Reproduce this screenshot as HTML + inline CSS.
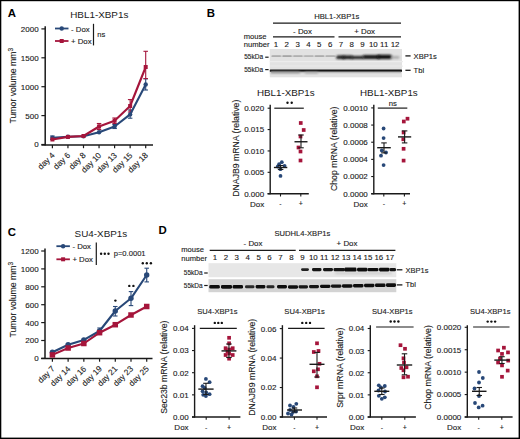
<!DOCTYPE html>
<html><head><meta charset="utf-8"><style>
html,body{margin:0;padding:0;background:#fff;}
svg{display:block;}
text{font-family:"Liberation Sans", sans-serif;stroke:#1a1a1a;stroke-width:0.12px;}
text.t{stroke:none;}
</style></head><body>
<svg width="520" height="439" viewBox="0 0 520 439">
<rect x="0" y="0" width="520" height="439" fill="#fff"/>
<defs><filter id="bl1" x="-5%" y="-50%" width="110%" height="200%"><feGaussianBlur stdDeviation="0.5"/></filter><filter id="bl2" x="-50%" y="-100%" width="200%" height="300%"><feGaussianBlur stdDeviation="0.55"/></filter><filter id="bl3" x="-50%" y="-100%" width="200%" height="300%"><feGaussianBlur stdDeviation="0.8"/></filter></defs>
<rect x="0.00" y="0.00" width="520.00" height="1.20" fill="#000" />
<rect x="0.00" y="0.00" width="1.30" height="439.00" fill="#000" />
<rect x="518.60" y="0.00" width="1.40" height="439.00" fill="#000" />
<rect x="0.00" y="437.60" width="520.00" height="1.40" fill="#000" />
<text x="7.80" y="16.80" font-size="11.4" text-anchor="start" font-weight="bold" fill="#000"  class="t">A</text>
<text x="206.80" y="17.30" font-size="11.4" text-anchor="start" font-weight="bold" fill="#000"  class="t">B</text>
<text x="7.80" y="236.00" font-size="11.4" text-anchor="start" font-weight="bold" fill="#000"  class="t">C</text>
<text x="158.40" y="234.30" font-size="11.4" text-anchor="start" font-weight="bold" fill="#000"  class="t">D</text>
<line x1="45.20" y1="26.30" x2="45.20" y2="145.60" stroke="#1a1a1a" stroke-width="1.5" />
<line x1="41.40" y1="145.00" x2="153.00" y2="145.00" stroke="#1a1a1a" stroke-width="1.5" />
<line x1="41.40" y1="144.50" x2="45.20" y2="144.50" stroke="#1a1a1a" stroke-width="1.2" />
<text x="38.60" y="147.40" font-size="8.0" text-anchor="end" font-weight="normal" fill="#1a1a1a" >0</text>
<line x1="41.40" y1="115.60" x2="45.20" y2="115.60" stroke="#1a1a1a" stroke-width="1.2" />
<text x="38.60" y="118.50" font-size="8.0" text-anchor="end" font-weight="normal" fill="#1a1a1a" >500</text>
<line x1="41.40" y1="86.70" x2="45.20" y2="86.70" stroke="#1a1a1a" stroke-width="1.2" />
<text x="38.60" y="89.60" font-size="8.0" text-anchor="end" font-weight="normal" fill="#1a1a1a" >1000</text>
<line x1="41.40" y1="57.80" x2="45.20" y2="57.80" stroke="#1a1a1a" stroke-width="1.2" />
<text x="38.60" y="60.70" font-size="8.0" text-anchor="end" font-weight="normal" fill="#1a1a1a" >1500</text>
<line x1="41.40" y1="28.90" x2="45.20" y2="28.90" stroke="#1a1a1a" stroke-width="1.2" />
<text x="38.60" y="31.80" font-size="8.0" text-anchor="end" font-weight="normal" fill="#1a1a1a" >2000</text>
<line x1="52.40" y1="145.00" x2="52.40" y2="148.20" stroke="#1a1a1a" stroke-width="1.2" />
<text x="55.20" y="155.90" font-size="8.2" text-anchor="end" fill="#1a1a1a" transform="rotate(-45 55.20 155.90)">day 4</text>
<line x1="67.95" y1="145.00" x2="67.95" y2="148.20" stroke="#1a1a1a" stroke-width="1.2" />
<text x="70.75" y="155.90" font-size="8.2" text-anchor="end" fill="#1a1a1a" transform="rotate(-45 70.75 155.90)">day 6</text>
<line x1="83.50" y1="145.00" x2="83.50" y2="148.20" stroke="#1a1a1a" stroke-width="1.2" />
<text x="86.30" y="155.90" font-size="8.2" text-anchor="end" fill="#1a1a1a" transform="rotate(-45 86.30 155.90)">day 8</text>
<line x1="99.05" y1="145.00" x2="99.05" y2="148.20" stroke="#1a1a1a" stroke-width="1.2" />
<text x="101.85" y="155.90" font-size="8.2" text-anchor="end" fill="#1a1a1a" transform="rotate(-45 101.85 155.90)">day 10</text>
<line x1="114.60" y1="145.00" x2="114.60" y2="148.20" stroke="#1a1a1a" stroke-width="1.2" />
<text x="117.40" y="155.90" font-size="8.2" text-anchor="end" fill="#1a1a1a" transform="rotate(-45 117.40 155.90)">day 13</text>
<line x1="130.15" y1="145.00" x2="130.15" y2="148.20" stroke="#1a1a1a" stroke-width="1.2" />
<text x="132.95" y="155.90" font-size="8.2" text-anchor="end" fill="#1a1a1a" transform="rotate(-45 132.95 155.90)">day 15</text>
<line x1="145.70" y1="145.00" x2="145.70" y2="148.20" stroke="#1a1a1a" stroke-width="1.2" />
<text x="148.50" y="155.90" font-size="8.2" text-anchor="end" fill="#1a1a1a" transform="rotate(-45 148.50 155.90)">day 18</text>
<text x="16.30" y="123.50" font-size="8.7" text-anchor="start" fill="#1a1a1a" transform="rotate(-90 16.30 123.50)">Tumor volume mm<tspan font-size="6.6" dy="-3.2">3</tspan></text>
<text x="99.30" y="18.00" font-size="9.9" text-anchor="middle" font-weight="normal" fill="#1a1a1a"  class="t">HBL1-XBP1s</text>
<line x1="145.70" y1="78.80" x2="145.70" y2="90.00" stroke="#284878" stroke-width="1.1" />
<line x1="143.45" y1="78.80" x2="147.95" y2="78.80" stroke="#284878" stroke-width="1.1" />
<line x1="143.45" y1="90.00" x2="147.95" y2="90.00" stroke="#284878" stroke-width="1.1" />
<line x1="130.15" y1="110.00" x2="130.15" y2="118.20" stroke="#284878" stroke-width="1.1" />
<line x1="127.90" y1="110.00" x2="132.40" y2="110.00" stroke="#284878" stroke-width="1.1" />
<line x1="127.90" y1="118.20" x2="132.40" y2="118.20" stroke="#284878" stroke-width="1.1" />
<line x1="114.60" y1="124.50" x2="114.60" y2="128.50" stroke="#284878" stroke-width="1.1" />
<line x1="112.35" y1="124.50" x2="116.85" y2="124.50" stroke="#284878" stroke-width="1.1" />
<line x1="112.35" y1="128.50" x2="116.85" y2="128.50" stroke="#284878" stroke-width="1.1" />
<line x1="52.40" y1="136.00" x2="52.40" y2="139.50" stroke="#284878" stroke-width="1.1" />
<line x1="50.15" y1="136.00" x2="54.65" y2="136.00" stroke="#284878" stroke-width="1.1" />
<line x1="50.15" y1="139.50" x2="54.65" y2="139.50" stroke="#284878" stroke-width="1.1" />
<line x1="145.70" y1="51.30" x2="145.70" y2="78.60" stroke="#a5153b" stroke-width="1.1" />
<line x1="143.45" y1="51.30" x2="147.95" y2="51.30" stroke="#a5153b" stroke-width="1.1" />
<line x1="143.45" y1="78.60" x2="147.95" y2="78.60" stroke="#a5153b" stroke-width="1.1" />
<line x1="130.15" y1="99.60" x2="130.15" y2="112.00" stroke="#a5153b" stroke-width="1.1" />
<line x1="127.90" y1="99.60" x2="132.40" y2="99.60" stroke="#a5153b" stroke-width="1.1" />
<line x1="127.90" y1="112.00" x2="132.40" y2="112.00" stroke="#a5153b" stroke-width="1.1" />
<line x1="114.60" y1="118.00" x2="114.60" y2="123.50" stroke="#a5153b" stroke-width="1.1" />
<line x1="112.35" y1="118.00" x2="116.85" y2="118.00" stroke="#a5153b" stroke-width="1.1" />
<line x1="112.35" y1="123.50" x2="116.85" y2="123.50" stroke="#a5153b" stroke-width="1.1" />
<line x1="99.05" y1="123.50" x2="99.05" y2="129.50" stroke="#a5153b" stroke-width="1.1" />
<line x1="96.80" y1="123.50" x2="101.30" y2="123.50" stroke="#a5153b" stroke-width="1.1" />
<line x1="96.80" y1="129.50" x2="101.30" y2="129.50" stroke="#a5153b" stroke-width="1.1" />
<polyline points="52.40,137.70 67.95,136.70 83.50,136.20 99.05,132.20 114.60,126.50 130.15,114.40 145.70,84.50" fill="none" stroke="#284878" stroke-width="2.1" stroke-linejoin="round"/>
<circle cx="52.40" cy="137.70" r="2.2" fill="#284878"/>
<circle cx="67.95" cy="136.70" r="2.2" fill="#284878"/>
<circle cx="83.50" cy="136.20" r="2.2" fill="#284878"/>
<circle cx="99.05" cy="132.20" r="2.2" fill="#284878"/>
<circle cx="114.60" cy="126.50" r="2.2" fill="#284878"/>
<circle cx="130.15" cy="114.40" r="2.2" fill="#284878"/>
<circle cx="145.70" cy="84.50" r="2.2" fill="#284878"/>
<polyline points="52.40,139.50 67.95,136.90 83.50,136.00 99.05,126.50 114.60,120.70 130.15,106.00 145.70,67.00" fill="none" stroke="#a5153b" stroke-width="2.1" stroke-linejoin="round"/>
<rect x="50.40" y="137.50" width="4.00" height="4.00" fill="#a5153b" />
<rect x="65.95" y="134.90" width="4.00" height="4.00" fill="#a5153b" />
<rect x="81.50" y="134.00" width="4.00" height="4.00" fill="#a5153b" />
<rect x="97.05" y="124.50" width="4.00" height="4.00" fill="#a5153b" />
<rect x="112.60" y="118.70" width="4.00" height="4.00" fill="#a5153b" />
<rect x="128.15" y="104.00" width="4.00" height="4.00" fill="#a5153b" />
<rect x="143.70" y="65.00" width="4.00" height="4.00" fill="#a5153b" />
<line x1="55.00" y1="28.50" x2="68.50" y2="28.50" stroke="#284878" stroke-width="1.8" />
<circle cx="61.70" cy="28.50" r="2.2" fill="#284878"/>
<text x="71.00" y="31.50" font-size="7.8" text-anchor="start" font-weight="normal" fill="#1a1a1a" >- Dox</text>
<line x1="55.00" y1="41.00" x2="68.50" y2="41.00" stroke="#a5153b" stroke-width="1.8" />
<rect x="59.70" y="39.00" width="4.00" height="4.00" fill="#a5153b" />
<text x="71.00" y="44.00" font-size="7.8" text-anchor="start" font-weight="normal" fill="#1a1a1a" >+ Dox</text>
<line x1="93.50" y1="23.80" x2="93.50" y2="45.40" stroke="#1a1a1a" stroke-width="1.2" />
<text x="97.20" y="37.40" font-size="7.6" text-anchor="start" font-weight="normal" fill="#1a1a1a" >ns</text>
<line x1="45.00" y1="248.60" x2="45.00" y2="359.10" stroke="#1a1a1a" stroke-width="1.5" />
<line x1="41.20" y1="358.50" x2="152.50" y2="358.50" stroke="#1a1a1a" stroke-width="1.5" />
<line x1="41.20" y1="358.40" x2="45.00" y2="358.40" stroke="#1a1a1a" stroke-width="1.2" />
<text x="38.60" y="361.30" font-size="8.0" text-anchor="end" font-weight="normal" fill="#1a1a1a" >0</text>
<line x1="41.20" y1="340.50" x2="45.00" y2="340.50" stroke="#1a1a1a" stroke-width="1.2" />
<text x="38.60" y="343.40" font-size="8.0" text-anchor="end" font-weight="normal" fill="#1a1a1a" >200</text>
<line x1="41.20" y1="322.60" x2="45.00" y2="322.60" stroke="#1a1a1a" stroke-width="1.2" />
<text x="38.60" y="325.50" font-size="8.0" text-anchor="end" font-weight="normal" fill="#1a1a1a" >400</text>
<line x1="41.20" y1="304.70" x2="45.00" y2="304.70" stroke="#1a1a1a" stroke-width="1.2" />
<text x="38.60" y="307.60" font-size="8.0" text-anchor="end" font-weight="normal" fill="#1a1a1a" >600</text>
<line x1="41.20" y1="286.80" x2="45.00" y2="286.80" stroke="#1a1a1a" stroke-width="1.2" />
<text x="38.60" y="289.70" font-size="8.0" text-anchor="end" font-weight="normal" fill="#1a1a1a" >800</text>
<line x1="41.20" y1="268.90" x2="45.00" y2="268.90" stroke="#1a1a1a" stroke-width="1.2" />
<text x="38.60" y="271.80" font-size="8.0" text-anchor="end" font-weight="normal" fill="#1a1a1a" >1000</text>
<line x1="41.20" y1="251.00" x2="45.00" y2="251.00" stroke="#1a1a1a" stroke-width="1.2" />
<text x="38.60" y="253.90" font-size="8.0" text-anchor="end" font-weight="normal" fill="#1a1a1a" >1200</text>
<line x1="52.40" y1="358.50" x2="52.40" y2="361.70" stroke="#1a1a1a" stroke-width="1.2" />
<text x="55.20" y="369.40" font-size="8.2" text-anchor="end" fill="#1a1a1a" transform="rotate(-45 55.20 369.40)">day 7</text>
<line x1="68.12" y1="358.50" x2="68.12" y2="361.70" stroke="#1a1a1a" stroke-width="1.2" />
<text x="70.92" y="369.40" font-size="8.2" text-anchor="end" fill="#1a1a1a" transform="rotate(-45 70.92 369.40)">day 14</text>
<line x1="83.84" y1="358.50" x2="83.84" y2="361.70" stroke="#1a1a1a" stroke-width="1.2" />
<text x="86.64" y="369.40" font-size="8.2" text-anchor="end" fill="#1a1a1a" transform="rotate(-45 86.64 369.40)">day 16</text>
<line x1="99.56" y1="358.50" x2="99.56" y2="361.70" stroke="#1a1a1a" stroke-width="1.2" />
<text x="102.36" y="369.40" font-size="8.2" text-anchor="end" fill="#1a1a1a" transform="rotate(-45 102.36 369.40)">day 19</text>
<line x1="115.28" y1="358.50" x2="115.28" y2="361.70" stroke="#1a1a1a" stroke-width="1.2" />
<text x="118.08" y="369.40" font-size="8.2" text-anchor="end" fill="#1a1a1a" transform="rotate(-45 118.08 369.40)">day 21</text>
<line x1="131.00" y1="358.50" x2="131.00" y2="361.70" stroke="#1a1a1a" stroke-width="1.2" />
<text x="133.80" y="369.40" font-size="8.2" text-anchor="end" fill="#1a1a1a" transform="rotate(-45 133.80 369.40)">day 23</text>
<line x1="146.72" y1="358.50" x2="146.72" y2="361.70" stroke="#1a1a1a" stroke-width="1.2" />
<text x="149.52" y="369.40" font-size="8.2" text-anchor="end" fill="#1a1a1a" transform="rotate(-45 149.52 369.40)">day 25</text>
<text x="16.30" y="337.50" font-size="8.7" text-anchor="start" fill="#1a1a1a" transform="rotate(-90 16.30 337.50)">Tumor volume mm<tspan font-size="6.6" dy="-3.2">3</tspan></text>
<text x="100.90" y="237.40" font-size="9.9" text-anchor="middle" font-weight="normal" fill="#1a1a1a"  class="t">SU4-XBP1s</text>
<line x1="146.72" y1="268.20" x2="146.72" y2="281.90" stroke="#284878" stroke-width="1.1" />
<line x1="144.47" y1="268.20" x2="148.97" y2="268.20" stroke="#284878" stroke-width="1.1" />
<line x1="144.47" y1="281.90" x2="148.97" y2="281.90" stroke="#284878" stroke-width="1.1" />
<line x1="131.00" y1="291.60" x2="131.00" y2="305.60" stroke="#284878" stroke-width="1.1" />
<line x1="128.75" y1="291.60" x2="133.25" y2="291.60" stroke="#284878" stroke-width="1.1" />
<line x1="128.75" y1="305.60" x2="133.25" y2="305.60" stroke="#284878" stroke-width="1.1" />
<line x1="115.28" y1="306.50" x2="115.28" y2="316.00" stroke="#284878" stroke-width="1.1" />
<line x1="113.03" y1="306.50" x2="117.53" y2="306.50" stroke="#284878" stroke-width="1.1" />
<line x1="113.03" y1="316.00" x2="117.53" y2="316.00" stroke="#284878" stroke-width="1.1" />
<line x1="99.56" y1="328.00" x2="99.56" y2="334.00" stroke="#284878" stroke-width="1.1" />
<line x1="97.31" y1="328.00" x2="101.81" y2="328.00" stroke="#284878" stroke-width="1.1" />
<line x1="97.31" y1="334.00" x2="101.81" y2="334.00" stroke="#284878" stroke-width="1.1" />
<polyline points="52.40,352.30 68.12,344.80 83.84,339.90 99.56,331.00 115.28,311.00 131.00,298.30 146.72,275.00" fill="none" stroke="#284878" stroke-width="2.1" stroke-linejoin="round"/>
<circle cx="52.40" cy="352.30" r="2.7" fill="#284878"/>
<circle cx="68.12" cy="344.80" r="2.7" fill="#284878"/>
<circle cx="83.84" cy="339.90" r="2.7" fill="#284878"/>
<circle cx="99.56" cy="331.00" r="2.7" fill="#284878"/>
<circle cx="115.28" cy="311.00" r="2.7" fill="#284878"/>
<circle cx="131.00" cy="298.30" r="2.7" fill="#284878"/>
<circle cx="146.72" cy="275.00" r="2.7" fill="#284878"/>
<polyline points="52.40,354.90 68.12,348.00 83.84,343.50 99.56,332.70 115.28,324.70 131.00,315.00 146.72,306.50" fill="none" stroke="#a5153b" stroke-width="2.1" stroke-linejoin="round"/>
<rect x="49.65" y="352.15" width="5.50" height="5.50" fill="#a5153b" />
<rect x="65.37" y="345.25" width="5.50" height="5.50" fill="#a5153b" />
<rect x="81.09" y="340.75" width="5.50" height="5.50" fill="#a5153b" />
<rect x="96.81" y="329.95" width="5.50" height="5.50" fill="#a5153b" />
<rect x="112.53" y="321.95" width="5.50" height="5.50" fill="#a5153b" />
<rect x="128.25" y="312.25" width="5.50" height="5.50" fill="#a5153b" />
<rect x="143.97" y="303.75" width="5.50" height="5.50" fill="#a5153b" />
<line x1="56.40" y1="246.20" x2="69.90" y2="246.20" stroke="#284878" stroke-width="1.8" />
<circle cx="63.10" cy="246.20" r="2.2" fill="#284878"/>
<text x="72.40" y="249.20" font-size="7.8" text-anchor="start" font-weight="normal" fill="#1a1a1a" >- Dox</text>
<line x1="56.40" y1="259.30" x2="69.90" y2="259.30" stroke="#a5153b" stroke-width="1.8" />
<rect x="61.10" y="257.30" width="4.00" height="4.00" fill="#a5153b" />
<text x="72.40" y="262.30" font-size="7.8" text-anchor="start" font-weight="normal" fill="#1a1a1a" >+ Dox</text>
<line x1="96.30" y1="242.60" x2="96.30" y2="264.90" stroke="#1a1a1a" stroke-width="1.2" />
<text x="113.70" y="256.00" font-size="7.6" text-anchor="start" font-weight="normal" fill="#1a1a1a" >p=0.0001</text>
<circle cx="101.10" cy="253.80" r="1.2" fill="#111"/>
<circle cx="104.80" cy="253.80" r="1.2" fill="#111"/>
<circle cx="108.50" cy="253.80" r="1.2" fill="#111"/>
<circle cx="115.40" cy="300.60" r="1.2" fill="#111"/>
<circle cx="129.30" cy="285.90" r="1.2" fill="#111"/>
<circle cx="133.40" cy="285.90" r="1.2" fill="#111"/>
<circle cx="142.80" cy="263.20" r="1.2" fill="#111"/>
<circle cx="146.80" cy="263.20" r="1.2" fill="#111"/>
<circle cx="150.90" cy="263.20" r="1.2" fill="#111"/>
<text x="336.80" y="18.60" font-size="7.7" text-anchor="middle" font-weight="normal" fill="#1a1a1a" >HBL1-XBP1s</text>
<line x1="273.00" y1="23.10" x2="401.00" y2="23.10" stroke="#1a1a1a" stroke-width="1.2" />
<text x="302.50" y="33.60" font-size="7.9" text-anchor="middle" font-weight="normal" fill="#1a1a1a" >- Dox</text>
<text x="364.60" y="33.60" font-size="7.9" text-anchor="middle" font-weight="normal" fill="#1a1a1a" >+ Dox</text>
<line x1="273.00" y1="36.90" x2="334.50" y2="36.90" stroke="#1a1a1a" stroke-width="1.2" />
<line x1="338.50" y1="36.90" x2="401.00" y2="36.90" stroke="#1a1a1a" stroke-width="1.2" />
<text x="243.80" y="38.60" font-size="7.6" text-anchor="start" font-weight="normal" fill="#1a1a1a" >mouse</text>
<text x="243.80" y="47.00" font-size="7.6" text-anchor="start" font-weight="normal" fill="#1a1a1a" >number</text>
<text x="276.00" y="46.80" font-size="7.9" text-anchor="middle" font-weight="normal" fill="#1a1a1a" >1</text>
<text x="286.82" y="46.80" font-size="7.9" text-anchor="middle" font-weight="normal" fill="#1a1a1a" >2</text>
<text x="297.64" y="46.80" font-size="7.9" text-anchor="middle" font-weight="normal" fill="#1a1a1a" >3</text>
<text x="308.46" y="46.80" font-size="7.9" text-anchor="middle" font-weight="normal" fill="#1a1a1a" >4</text>
<text x="319.28" y="46.80" font-size="7.9" text-anchor="middle" font-weight="normal" fill="#1a1a1a" >5</text>
<text x="330.10" y="46.80" font-size="7.9" text-anchor="middle" font-weight="normal" fill="#1a1a1a" >6</text>
<text x="340.92" y="46.80" font-size="7.9" text-anchor="middle" font-weight="normal" fill="#1a1a1a" >7</text>
<text x="351.74" y="46.80" font-size="7.9" text-anchor="middle" font-weight="normal" fill="#1a1a1a" >8</text>
<text x="362.56" y="46.80" font-size="7.9" text-anchor="middle" font-weight="normal" fill="#1a1a1a" >9</text>
<text x="373.38" y="46.80" font-size="7.9" text-anchor="middle" font-weight="normal" fill="#1a1a1a" >10</text>
<text x="384.20" y="46.80" font-size="7.9" text-anchor="middle" font-weight="normal" fill="#1a1a1a" >11</text>
<text x="395.02" y="46.80" font-size="7.9" text-anchor="middle" font-weight="normal" fill="#1a1a1a" >12</text>
<rect x="269.80" y="49.00" width="132.20" height="28.30" fill="#e2e2e2" filter="url(#bl1)"/>
<rect x="269.80" y="61.00" width="133.20" height="1.20" fill="#ececec" filter="url(#bl1)"/>
<rect x="269.80" y="65.60" width="133.20" height="1.00" fill="#eaeaea" filter="url(#bl1)"/>
<rect x="271.00" y="55.55" width="65.00" height="1.30" rx="0.6" fill="#c6c6c6" filter="url(#bl2)"/>
<rect x="271.70" y="55.20" width="9.20" height="1.80" rx="0.8" fill="#aeaeae" filter="url(#bl2)"/>
<rect x="282.50" y="55.20" width="9.20" height="1.80" rx="0.8" fill="#a6a6a6" filter="url(#bl2)"/>
<rect x="293.30" y="55.20" width="9.20" height="1.80" rx="0.8" fill="#b0b0b0" filter="url(#bl2)"/>
<rect x="304.10" y="55.20" width="9.20" height="1.80" rx="0.8" fill="#b6b6b6" filter="url(#bl2)"/>
<rect x="314.90" y="55.20" width="9.20" height="1.80" rx="0.8" fill="#acacac" filter="url(#bl2)"/>
<rect x="325.70" y="55.20" width="9.20" height="1.80" rx="0.8" fill="#b2b2b2" filter="url(#bl2)"/>
<rect x="336.20" y="55.60" width="8.80" height="3.40" rx="1.6" fill="#1c1c1c" filter="url(#bl3)"/>
<rect x="342.50" y="55.40" width="10.50" height="3.60" rx="1.6" fill="#141414" filter="url(#bl3)"/>
<rect x="351.00" y="56.10" width="13.00" height="3.00" rx="1.4" fill="#222222" filter="url(#bl3)"/>
<rect x="362.50" y="55.10" width="17.50" height="3.80" rx="1.8" fill="#141414" filter="url(#bl3)"/>
<rect x="377.00" y="54.70" width="15.00" height="4.20" rx="2.0" fill="#0e0e0e" filter="url(#bl3)"/>
<rect x="391.00" y="56.30" width="8.50" height="2.20" rx="1.0" fill="#a0a0a0" filter="url(#bl3)"/>
<rect x="269.80" y="69.55" width="132.20" height="2.10" rx="0.5" fill="#151515" filter="url(#bl1)"/>
<rect x="271.00" y="71.85" width="130.00" height="1.50" rx="0.5" fill="#bcbcbc" filter="url(#bl2)"/>
<rect x="270.50" y="71.60" width="29.50" height="1.60" rx="0.6" fill="#8c8c8c" filter="url(#bl3)"/>
<rect x="305.00" y="72.10" width="13.00" height="1.40" rx="0.6" fill="#a0a0a0" filter="url(#bl3)"/>
<text x="263.00" y="59.40" font-size="6.5" text-anchor="end" font-weight="normal" fill="#1a1a1a" >55kDa</text>
<line x1="265.20" y1="57.20" x2="268.60" y2="57.20" stroke="#1a1a1a" stroke-width="1.2" />
<text x="263.00" y="71.80" font-size="6.5" text-anchor="end" font-weight="normal" fill="#1a1a1a" >55kDa</text>
<line x1="265.20" y1="69.60" x2="268.60" y2="69.60" stroke="#1a1a1a" stroke-width="1.2" />
<line x1="405.40" y1="55.90" x2="410.60" y2="55.90" stroke="#1a1a1a" stroke-width="1.3" />
<text x="413.60" y="58.60" font-size="7.6" text-anchor="start" font-weight="normal" fill="#1a1a1a" >XBP1s</text>
<line x1="405.40" y1="70.30" x2="410.60" y2="70.30" stroke="#1a1a1a" stroke-width="1.3" />
<text x="413.60" y="72.90" font-size="7.6" text-anchor="start" font-weight="normal" fill="#1a1a1a" >Tbl</text>
<text x="302.40" y="235.60" font-size="7.6" text-anchor="middle" font-weight="normal" fill="#1a1a1a" >SUDHL4-XBP1s</text>
<text x="253.00" y="246.00" font-size="7.9" text-anchor="middle" font-weight="normal" fill="#1a1a1a" >- Dox</text>
<text x="347.00" y="246.40" font-size="7.9" text-anchor="middle" font-weight="normal" fill="#1a1a1a" >+ Dox</text>
<line x1="209.70" y1="250.40" x2="295.70" y2="250.40" stroke="#1a1a1a" stroke-width="1.2" />
<line x1="299.00" y1="250.40" x2="395.40" y2="250.40" stroke="#1a1a1a" stroke-width="1.2" />
<text x="181.20" y="251.80" font-size="7.6" text-anchor="start" font-weight="normal" fill="#1a1a1a" >mouse</text>
<text x="181.20" y="261.00" font-size="7.6" text-anchor="start" font-weight="normal" fill="#1a1a1a" >number</text>
<text x="214.90" y="260.10" font-size="7.9" text-anchor="middle" font-weight="normal" fill="#1a1a1a" >1</text>
<text x="225.83" y="260.10" font-size="7.9" text-anchor="middle" font-weight="normal" fill="#1a1a1a" >2</text>
<text x="236.76" y="260.10" font-size="7.9" text-anchor="middle" font-weight="normal" fill="#1a1a1a" >3</text>
<text x="247.69" y="260.10" font-size="7.9" text-anchor="middle" font-weight="normal" fill="#1a1a1a" >4</text>
<text x="258.62" y="260.10" font-size="7.9" text-anchor="middle" font-weight="normal" fill="#1a1a1a" >5</text>
<text x="269.55" y="260.10" font-size="7.9" text-anchor="middle" font-weight="normal" fill="#1a1a1a" >6</text>
<text x="280.48" y="260.10" font-size="7.9" text-anchor="middle" font-weight="normal" fill="#1a1a1a" >7</text>
<text x="291.41" y="260.10" font-size="7.9" text-anchor="middle" font-weight="normal" fill="#1a1a1a" >8</text>
<text x="302.34" y="260.10" font-size="7.9" text-anchor="middle" font-weight="normal" fill="#1a1a1a" >9</text>
<text x="313.27" y="260.10" font-size="7.9" text-anchor="middle" font-weight="normal" fill="#1a1a1a" >10</text>
<text x="324.20" y="260.10" font-size="7.9" text-anchor="middle" font-weight="normal" fill="#1a1a1a" >11</text>
<text x="335.13" y="260.10" font-size="7.9" text-anchor="middle" font-weight="normal" fill="#1a1a1a" >12</text>
<text x="346.06" y="260.10" font-size="7.9" text-anchor="middle" font-weight="normal" fill="#1a1a1a" >13</text>
<text x="356.99" y="260.10" font-size="7.9" text-anchor="middle" font-weight="normal" fill="#1a1a1a" >14</text>
<text x="367.92" y="260.10" font-size="7.9" text-anchor="middle" font-weight="normal" fill="#1a1a1a" >15</text>
<text x="378.85" y="260.10" font-size="7.9" text-anchor="middle" font-weight="normal" fill="#1a1a1a" >16</text>
<text x="389.78" y="260.10" font-size="7.9" text-anchor="middle" font-weight="normal" fill="#1a1a1a" >17</text>
<rect x="208.50" y="263.20" width="187.80" height="14.00" fill="#e7e7e7" filter="url(#bl1)"/>
<rect x="208.50" y="279.20" width="187.80" height="13.00" fill="#d3d3d3" filter="url(#bl1)"/>
<rect x="209.30" y="285.00" width="10.50" height="3.60" rx="1.4" fill="#080808" filter="url(#bl2)"/>
<rect x="221.00" y="284.90" width="11.00" height="3.80" rx="1.4" fill="#0a0a0a" filter="url(#bl2)"/>
<rect x="232.60" y="285.00" width="10.40" height="3.60" rx="1.4" fill="#0a0a0a" filter="url(#bl2)"/>
<rect x="245.00" y="285.30" width="9.50" height="3.00" rx="1.4" fill="#2a2a2a" filter="url(#bl2)"/>
<rect x="255.60" y="285.10" width="9.80" height="3.40" rx="1.4" fill="#0e0e0e" filter="url(#bl2)"/>
<rect x="266.40" y="285.30" width="8.10" height="3.00" rx="1.4" fill="#252525" filter="url(#bl2)"/>
<rect x="277.00" y="285.10" width="10.00" height="3.40" rx="1.4" fill="#101010" filter="url(#bl2)"/>
<rect x="288.00" y="285.34" width="10.00" height="3.40" rx="1.4" fill="#101010" filter="url(#bl2)"/>
<rect x="298.50" y="285.24" width="9.50" height="3.20" rx="1.4" fill="#141414" filter="url(#bl2)"/>
<rect x="309.00" y="285.02" width="10.00" height="3.20" rx="1.4" fill="#141414" filter="url(#bl2)"/>
<rect x="320.00" y="284.80" width="10.50" height="3.20" rx="1.4" fill="#101010" filter="url(#bl2)"/>
<rect x="331.00" y="284.57" width="10.50" height="3.20" rx="1.4" fill="#141414" filter="url(#bl2)"/>
<rect x="342.00" y="284.26" width="10.50" height="3.40" rx="1.4" fill="#101010" filter="url(#bl2)"/>
<rect x="353.00" y="284.04" width="10.50" height="3.40" rx="1.4" fill="#101010" filter="url(#bl2)"/>
<rect x="364.00" y="283.82" width="10.50" height="3.40" rx="1.4" fill="#101010" filter="url(#bl2)"/>
<rect x="375.00" y="283.50" width="10.50" height="3.60" rx="1.4" fill="#0c0c0c" filter="url(#bl2)"/>
<rect x="386.00" y="283.28" width="10.00" height="3.60" rx="1.4" fill="#0c0c0c" filter="url(#bl2)"/>
<rect x="335.00" y="272.50" width="57.00" height="1.60" rx="0.8" fill="#c4c4c4" filter="url(#bl3)"/>
<rect x="301.00" y="268.20" width="8.00" height="2.80" rx="1.4" fill="#222222" filter="url(#bl2)"/>
<rect x="312.00" y="268.00" width="9.50" height="3.20" rx="1.4" fill="#141414" filter="url(#bl2)"/>
<rect x="323.00" y="268.00" width="10.00" height="3.20" rx="1.4" fill="#141414" filter="url(#bl2)"/>
<rect x="333.50" y="267.90" width="11.50" height="3.40" rx="1.4" fill="#141414" filter="url(#bl2)"/>
<rect x="344.50" y="267.60" width="12.00" height="4.00" rx="1.4" fill="#0e0e0e" filter="url(#bl2)"/>
<rect x="357.00" y="267.80" width="10.50" height="3.60" rx="1.4" fill="#101010" filter="url(#bl2)"/>
<rect x="367.50" y="267.90" width="11.00" height="3.40" rx="1.4" fill="#101010" filter="url(#bl2)"/>
<rect x="379.00" y="267.70" width="10.50" height="3.80" rx="1.4" fill="#0e0e0e" filter="url(#bl2)"/>
<rect x="389.50" y="267.90" width="6.50" height="3.40" rx="1.4" fill="#141414" filter="url(#bl2)"/>
<text x="202.60" y="275.00" font-size="6.5" text-anchor="end" font-weight="normal" fill="#1a1a1a" >55kDa</text>
<line x1="204.20" y1="273.00" x2="207.70" y2="273.00" stroke="#1a1a1a" stroke-width="1.2" />
<text x="202.60" y="288.00" font-size="6.5" text-anchor="end" font-weight="normal" fill="#1a1a1a" >55kDa</text>
<line x1="204.20" y1="285.50" x2="207.70" y2="285.50" stroke="#1a1a1a" stroke-width="1.2" />
<line x1="396.80" y1="269.80" x2="402.40" y2="269.80" stroke="#1a1a1a" stroke-width="1.3" />
<text x="405.50" y="272.60" font-size="7.5" text-anchor="start" font-weight="normal" fill="#1a1a1a" >XBP1s</text>
<line x1="396.80" y1="284.90" x2="402.40" y2="284.90" stroke="#1a1a1a" stroke-width="1.3" />
<text x="405.50" y="287.40" font-size="7.5" text-anchor="start" font-weight="normal" fill="#1a1a1a" >Tbl</text>
<line x1="270.20" y1="104.80" x2="270.20" y2="194.30" stroke="#1a1a1a" stroke-width="1.4" />
<line x1="267.60" y1="193.70" x2="308.80" y2="193.70" stroke="#1a1a1a" stroke-width="1.4" />
<line x1="267.60" y1="193.70" x2="270.20" y2="193.70" stroke="#1a1a1a" stroke-width="1.1" />
<text x="264.20" y="196.60" font-size="8.0" text-anchor="end" font-weight="normal" fill="#1a1a1a" >0.000</text>
<line x1="267.60" y1="172.32" x2="270.20" y2="172.32" stroke="#1a1a1a" stroke-width="1.1" />
<text x="264.20" y="175.22" font-size="8.0" text-anchor="end" font-weight="normal" fill="#1a1a1a" >0.005</text>
<line x1="267.60" y1="150.95" x2="270.20" y2="150.95" stroke="#1a1a1a" stroke-width="1.1" />
<text x="264.20" y="153.85" font-size="8.0" text-anchor="end" font-weight="normal" fill="#1a1a1a" >0.010</text>
<line x1="267.60" y1="129.57" x2="270.20" y2="129.57" stroke="#1a1a1a" stroke-width="1.1" />
<text x="264.20" y="132.47" font-size="8.0" text-anchor="end" font-weight="normal" fill="#1a1a1a" >0.015</text>
<line x1="267.60" y1="108.20" x2="270.20" y2="108.20" stroke="#1a1a1a" stroke-width="1.1" />
<text x="264.20" y="111.10" font-size="8.0" text-anchor="end" font-weight="normal" fill="#1a1a1a" >0.020</text>
<line x1="280.50" y1="193.70" x2="280.50" y2="196.50" stroke="#1a1a1a" stroke-width="1.1" />
<line x1="300.80" y1="193.70" x2="300.80" y2="196.50" stroke="#1a1a1a" stroke-width="1.1" />
<text x="264.20" y="206.80" font-size="8.0" text-anchor="end" font-weight="normal" fill="#1a1a1a" >Dox</text>
<text x="280.50" y="206.20" font-size="7.0" text-anchor="middle" font-weight="normal" fill="#1a1a1a" >-</text>
<text x="300.80" y="206.20" font-size="7.0" text-anchor="middle" font-weight="normal" fill="#1a1a1a" >+</text>
<text x="285.80" y="95.90" font-size="9.8" text-anchor="middle" font-weight="normal" fill="#1a1a1a"  class="t">HBL1-XBP1s</text>
<text x="239.20" y="196.70" font-size="8.7" text-anchor="start" fill="#1a1a1a" transform="rotate(-90 239.20 196.70)">DNAJB9 mRNA (relative)</text>
<line x1="274.30" y1="108.20" x2="303.80" y2="108.20" stroke="#1a1a1a" stroke-width="1.2" />
<circle cx="287.50" cy="102.70" r="1.2" fill="#111"/>
<circle cx="291.70" cy="102.70" r="1.2" fill="#111"/>
<circle cx="281.80" cy="162.20" r="1.9" fill="#284878"/>
<circle cx="279.10" cy="164.20" r="1.9" fill="#284878"/>
<circle cx="284.60" cy="165.80" r="1.9" fill="#284878"/>
<circle cx="277.80" cy="166.50" r="1.9" fill="#284878"/>
<circle cx="280.40" cy="169.20" r="1.9" fill="#284878"/>
<circle cx="280.50" cy="175.90" r="1.9" fill="#284878"/>
<rect x="298.90" y="121.15" width="3.70" height="3.70" fill="#a5153b" />
<rect x="301.85" y="128.15" width="3.70" height="3.70" fill="#a5153b" />
<rect x="298.65" y="134.65" width="3.70" height="3.70" fill="#a5153b" />
<rect x="296.65" y="145.65" width="3.70" height="3.70" fill="#a5153b" />
<rect x="298.65" y="149.65" width="3.70" height="3.70" fill="#a5153b" />
<rect x="298.65" y="158.65" width="3.70" height="3.70" fill="#a5153b" />
<line x1="273.90" y1="167.50" x2="287.30" y2="167.50" stroke="#1a1a1a" stroke-width="1.4" />
<line x1="280.60" y1="165.50" x2="280.60" y2="169.50" stroke="#1a1a1a" stroke-width="1.1" />
<line x1="277.85" y1="165.50" x2="283.35" y2="165.50" stroke="#1a1a1a" stroke-width="1.1" />
<line x1="277.85" y1="169.50" x2="283.35" y2="169.50" stroke="#1a1a1a" stroke-width="1.1" />
<line x1="294.50" y1="141.75" x2="307.50" y2="141.75" stroke="#1a1a1a" stroke-width="1.4" />
<line x1="301.00" y1="135.00" x2="301.00" y2="147.80" stroke="#1a1a1a" stroke-width="1.1" />
<line x1="298.25" y1="135.00" x2="303.75" y2="135.00" stroke="#1a1a1a" stroke-width="1.1" />
<line x1="298.25" y1="147.80" x2="303.75" y2="147.80" stroke="#1a1a1a" stroke-width="1.1" />
<line x1="373.80" y1="104.80" x2="373.80" y2="194.30" stroke="#1a1a1a" stroke-width="1.4" />
<line x1="371.20" y1="193.70" x2="410.00" y2="193.70" stroke="#1a1a1a" stroke-width="1.4" />
<line x1="371.20" y1="193.70" x2="373.80" y2="193.70" stroke="#1a1a1a" stroke-width="1.1" />
<text x="367.80" y="196.60" font-size="8.0" text-anchor="end" font-weight="normal" fill="#1a1a1a" >0.0000</text>
<line x1="371.20" y1="176.54" x2="373.80" y2="176.54" stroke="#1a1a1a" stroke-width="1.1" />
<text x="367.80" y="179.44" font-size="8.0" text-anchor="end" font-weight="normal" fill="#1a1a1a" >0.0002</text>
<line x1="371.20" y1="159.38" x2="373.80" y2="159.38" stroke="#1a1a1a" stroke-width="1.1" />
<text x="367.80" y="162.28" font-size="8.0" text-anchor="end" font-weight="normal" fill="#1a1a1a" >0.0004</text>
<line x1="371.20" y1="142.22" x2="373.80" y2="142.22" stroke="#1a1a1a" stroke-width="1.1" />
<text x="367.80" y="145.12" font-size="8.0" text-anchor="end" font-weight="normal" fill="#1a1a1a" >0.0006</text>
<line x1="371.20" y1="125.06" x2="373.80" y2="125.06" stroke="#1a1a1a" stroke-width="1.1" />
<text x="367.80" y="127.96" font-size="8.0" text-anchor="end" font-weight="normal" fill="#1a1a1a" >0.0008</text>
<line x1="371.20" y1="107.90" x2="373.80" y2="107.90" stroke="#1a1a1a" stroke-width="1.1" />
<text x="367.80" y="110.80" font-size="8.0" text-anchor="end" font-weight="normal" fill="#1a1a1a" >0.0010</text>
<line x1="383.80" y1="193.70" x2="383.80" y2="196.50" stroke="#1a1a1a" stroke-width="1.1" />
<line x1="404.40" y1="193.70" x2="404.40" y2="196.50" stroke="#1a1a1a" stroke-width="1.1" />
<text x="367.80" y="206.80" font-size="8.0" text-anchor="end" font-weight="normal" fill="#1a1a1a" >Dox</text>
<text x="383.80" y="206.20" font-size="7.0" text-anchor="middle" font-weight="normal" fill="#1a1a1a" >-</text>
<text x="404.40" y="206.20" font-size="7.0" text-anchor="middle" font-weight="normal" fill="#1a1a1a" >+</text>
<text x="388.90" y="95.90" font-size="9.8" text-anchor="middle" font-weight="normal" fill="#1a1a1a"  class="t">HBL1-XBP1s</text>
<text x="337.00" y="191.00" font-size="8.7" text-anchor="start" fill="#1a1a1a" transform="rotate(-90 337.00 191.00)">Chop mRNA (relative)</text>
<line x1="377.80" y1="108.10" x2="407.30" y2="108.10" stroke="#1a1a1a" stroke-width="1.2" />
<text x="392.90" y="105.80" font-size="7.7" text-anchor="middle" font-weight="normal" fill="#1a1a1a" >ns</text>
<circle cx="383.60" cy="128.50" r="1.9" fill="#284878"/>
<circle cx="383.60" cy="138.10" r="1.9" fill="#284878"/>
<circle cx="381.80" cy="150.50" r="1.9" fill="#284878"/>
<circle cx="386.00" cy="152.50" r="1.9" fill="#284878"/>
<circle cx="381.00" cy="155.70" r="1.9" fill="#284878"/>
<circle cx="383.60" cy="165.10" r="1.9" fill="#284878"/>
<rect x="405.65" y="116.85" width="3.70" height="3.70" fill="#a5153b" />
<rect x="401.95" y="119.65" width="3.70" height="3.70" fill="#a5153b" />
<rect x="401.45" y="137.45" width="3.70" height="3.70" fill="#a5153b" />
<rect x="401.75" y="146.95" width="3.70" height="3.70" fill="#a5153b" />
<rect x="401.75" y="158.75" width="3.70" height="3.70" fill="#a5153b" />
<rect x="401.75" y="130.65" width="3.70" height="3.70" fill="#a5153b" />
<line x1="377.20" y1="147.70" x2="390.80" y2="147.70" stroke="#1a1a1a" stroke-width="1.4" />
<line x1="384.00" y1="142.90" x2="384.00" y2="152.90" stroke="#1a1a1a" stroke-width="1.1" />
<line x1="381.25" y1="142.90" x2="386.75" y2="142.90" stroke="#1a1a1a" stroke-width="1.1" />
<line x1="381.25" y1="152.90" x2="386.75" y2="152.90" stroke="#1a1a1a" stroke-width="1.1" />
<line x1="398.00" y1="136.90" x2="411.20" y2="136.90" stroke="#1a1a1a" stroke-width="1.4" />
<line x1="404.60" y1="130.90" x2="404.60" y2="142.90" stroke="#1a1a1a" stroke-width="1.1" />
<line x1="401.85" y1="130.90" x2="407.35" y2="130.90" stroke="#1a1a1a" stroke-width="1.1" />
<line x1="401.85" y1="142.90" x2="407.35" y2="142.90" stroke="#1a1a1a" stroke-width="1.1" />
<line x1="194.60" y1="325.20" x2="194.60" y2="417.60" stroke="#1a1a1a" stroke-width="1.4" />
<line x1="192.00" y1="417.00" x2="240.40" y2="417.00" stroke="#1a1a1a" stroke-width="1.4" />
<line x1="192.00" y1="417.00" x2="194.60" y2="417.00" stroke="#1a1a1a" stroke-width="1.1" />
<text x="188.60" y="419.90" font-size="8.0" text-anchor="end" font-weight="normal" fill="#1a1a1a" >0.00</text>
<line x1="192.00" y1="394.85" x2="194.60" y2="394.85" stroke="#1a1a1a" stroke-width="1.1" />
<text x="188.60" y="397.75" font-size="8.0" text-anchor="end" font-weight="normal" fill="#1a1a1a" >0.01</text>
<line x1="192.00" y1="372.70" x2="194.60" y2="372.70" stroke="#1a1a1a" stroke-width="1.1" />
<text x="188.60" y="375.60" font-size="8.0" text-anchor="end" font-weight="normal" fill="#1a1a1a" >0.02</text>
<line x1="192.00" y1="350.55" x2="194.60" y2="350.55" stroke="#1a1a1a" stroke-width="1.1" />
<text x="188.60" y="353.45" font-size="8.0" text-anchor="end" font-weight="normal" fill="#1a1a1a" >0.03</text>
<line x1="192.00" y1="328.40" x2="194.60" y2="328.40" stroke="#1a1a1a" stroke-width="1.1" />
<text x="188.60" y="331.30" font-size="8.0" text-anchor="end" font-weight="normal" fill="#1a1a1a" >0.04</text>
<line x1="206.20" y1="417.00" x2="206.20" y2="419.80" stroke="#1a1a1a" stroke-width="1.1" />
<line x1="229.10" y1="417.00" x2="229.10" y2="419.80" stroke="#1a1a1a" stroke-width="1.1" />
<text x="188.60" y="430.30" font-size="8.0" text-anchor="end" font-weight="normal" fill="#1a1a1a" >Dox</text>
<text x="206.20" y="429.70" font-size="7.0" text-anchor="middle" font-weight="normal" fill="#1a1a1a" >-</text>
<text x="229.10" y="429.70" font-size="7.0" text-anchor="middle" font-weight="normal" fill="#1a1a1a" >+</text>
<text x="217.40" y="314.30" font-size="7.6" text-anchor="middle" font-weight="normal" fill="#1a1a1a" >SU4-XBP1s</text>
<text x="167.20" y="413.80" font-size="8.7" text-anchor="start" fill="#1a1a1a" transform="rotate(-90 167.20 413.80)">Sec23b mRNA (relative)</text>
<line x1="199.80" y1="328.30" x2="236.80" y2="328.30" stroke="#1a1a1a" stroke-width="1.2" />
<circle cx="214.80" cy="322.90" r="1.2" fill="#111"/>
<circle cx="218.30" cy="322.90" r="1.2" fill="#111"/>
<circle cx="221.80" cy="322.90" r="1.2" fill="#111"/>
<circle cx="205.90" cy="378.90" r="1.9" fill="#284878"/>
<circle cx="209.60" cy="382.20" r="1.9" fill="#284878"/>
<circle cx="202.60" cy="386.20" r="1.9" fill="#284878"/>
<circle cx="204.80" cy="388.00" r="1.9" fill="#284878"/>
<circle cx="202.60" cy="391.30" r="1.9" fill="#284878"/>
<circle cx="206.20" cy="392.40" r="1.9" fill="#284878"/>
<circle cx="209.60" cy="394.20" r="1.9" fill="#284878"/>
<circle cx="205.90" cy="396.00" r="1.9" fill="#284878"/>
<circle cx="203.20" cy="394.80" r="1.9" fill="#284878"/>
<rect x="227.25" y="335.95" width="3.70" height="3.70" fill="#a5153b" />
<rect x="227.25" y="341.45" width="3.70" height="3.70" fill="#a5153b" />
<rect x="223.75" y="346.35" width="3.70" height="3.70" fill="#a5153b" />
<rect x="230.85" y="346.35" width="3.70" height="3.70" fill="#a5153b" />
<rect x="227.25" y="347.65" width="3.70" height="3.70" fill="#a5153b" />
<rect x="223.75" y="353.15" width="3.70" height="3.70" fill="#a5153b" />
<rect x="230.85" y="353.15" width="3.70" height="3.70" fill="#a5153b" />
<rect x="227.25" y="351.65" width="3.70" height="3.70" fill="#a5153b" />
<rect x="227.25" y="356.85" width="3.70" height="3.70" fill="#a5153b" />
<rect x="225.65" y="349.65" width="3.70" height="3.70" fill="#a5153b" />
<line x1="198.30" y1="389.10" x2="213.60" y2="389.10" stroke="#1a1a1a" stroke-width="1.4" />
<line x1="205.95" y1="383.30" x2="205.95" y2="394.50" stroke="#1a1a1a" stroke-width="1.1" />
<line x1="203.20" y1="383.30" x2="208.70" y2="383.30" stroke="#1a1a1a" stroke-width="1.1" />
<line x1="203.20" y1="394.50" x2="208.70" y2="394.50" stroke="#1a1a1a" stroke-width="1.1" />
<line x1="221.50" y1="350.90" x2="236.40" y2="350.90" stroke="#1a1a1a" stroke-width="1.4" />
<line x1="228.95" y1="344.00" x2="228.95" y2="357.50" stroke="#1a1a1a" stroke-width="1.1" />
<line x1="226.20" y1="344.00" x2="231.70" y2="344.00" stroke="#1a1a1a" stroke-width="1.1" />
<line x1="226.20" y1="357.50" x2="231.70" y2="357.50" stroke="#1a1a1a" stroke-width="1.1" />
<line x1="282.40" y1="325.20" x2="282.40" y2="417.60" stroke="#1a1a1a" stroke-width="1.4" />
<line x1="279.80" y1="417.00" x2="327.00" y2="417.00" stroke="#1a1a1a" stroke-width="1.4" />
<line x1="279.80" y1="417.00" x2="282.40" y2="417.00" stroke="#1a1a1a" stroke-width="1.1" />
<text x="276.40" y="419.90" font-size="8.0" text-anchor="end" font-weight="normal" fill="#1a1a1a" >0.00</text>
<line x1="279.80" y1="387.53" x2="282.40" y2="387.53" stroke="#1a1a1a" stroke-width="1.1" />
<text x="276.40" y="390.43" font-size="8.0" text-anchor="end" font-weight="normal" fill="#1a1a1a" >0.02</text>
<line x1="279.80" y1="358.07" x2="282.40" y2="358.07" stroke="#1a1a1a" stroke-width="1.1" />
<text x="276.40" y="360.97" font-size="8.0" text-anchor="end" font-weight="normal" fill="#1a1a1a" >0.04</text>
<line x1="279.80" y1="328.60" x2="282.40" y2="328.60" stroke="#1a1a1a" stroke-width="1.1" />
<text x="276.40" y="331.50" font-size="8.0" text-anchor="end" font-weight="normal" fill="#1a1a1a" >0.06</text>
<line x1="294.40" y1="417.00" x2="294.40" y2="419.80" stroke="#1a1a1a" stroke-width="1.1" />
<line x1="317.00" y1="417.00" x2="317.00" y2="419.80" stroke="#1a1a1a" stroke-width="1.1" />
<text x="276.40" y="430.30" font-size="8.0" text-anchor="end" font-weight="normal" fill="#1a1a1a" >Dox</text>
<text x="294.40" y="429.70" font-size="7.0" text-anchor="middle" font-weight="normal" fill="#1a1a1a" >-</text>
<text x="317.00" y="429.70" font-size="7.0" text-anchor="middle" font-weight="normal" fill="#1a1a1a" >+</text>
<text x="304.60" y="314.30" font-size="7.6" text-anchor="middle" font-weight="normal" fill="#1a1a1a" >SU4-XBP1s</text>
<text x="254.70" y="415.80" font-size="8.7" text-anchor="start" fill="#1a1a1a" transform="rotate(-90 254.70 415.80)">DNAJB9 mRNA (relative)</text>
<line x1="288.10" y1="328.30" x2="324.60" y2="328.30" stroke="#1a1a1a" stroke-width="1.2" />
<circle cx="302.30" cy="322.90" r="1.2" fill="#111"/>
<circle cx="306.20" cy="322.90" r="1.2" fill="#111"/>
<circle cx="310.00" cy="322.90" r="1.2" fill="#111"/>
<circle cx="290.00" cy="405.50" r="1.9" fill="#284878"/>
<circle cx="296.30" cy="403.80" r="1.9" fill="#284878"/>
<circle cx="293.50" cy="407.00" r="1.9" fill="#284878"/>
<circle cx="290.00" cy="410.00" r="1.9" fill="#284878"/>
<circle cx="293.00" cy="412.00" r="1.9" fill="#284878"/>
<circle cx="288.00" cy="413.50" r="1.9" fill="#284878"/>
<circle cx="296.00" cy="411.50" r="1.9" fill="#284878"/>
<circle cx="291.50" cy="414.50" r="1.9" fill="#284878"/>
<rect x="315.15" y="341.45" width="3.70" height="3.70" fill="#a5153b" />
<rect x="311.95" y="350.15" width="3.70" height="3.70" fill="#a5153b" />
<rect x="316.65" y="349.15" width="3.70" height="3.70" fill="#a5153b" />
<rect x="317.65" y="361.95" width="3.70" height="3.70" fill="#a5153b" />
<rect x="316.15" y="367.45" width="3.70" height="3.70" fill="#a5153b" />
<rect x="311.95" y="369.45" width="3.70" height="3.70" fill="#a5153b" />
<rect x="315.15" y="374.45" width="3.70" height="3.70" fill="#a5153b" />
<rect x="315.15" y="385.45" width="3.70" height="3.70" fill="#a5153b" />
<line x1="287.00" y1="410.00" x2="302.00" y2="410.00" stroke="#1a1a1a" stroke-width="1.4" />
<line x1="294.50" y1="408.00" x2="294.50" y2="412.00" stroke="#1a1a1a" stroke-width="1.1" />
<line x1="291.75" y1="408.00" x2="297.25" y2="408.00" stroke="#1a1a1a" stroke-width="1.1" />
<line x1="291.75" y1="412.00" x2="297.25" y2="412.00" stroke="#1a1a1a" stroke-width="1.1" />
<line x1="309.50" y1="364.30" x2="324.50" y2="364.30" stroke="#1a1a1a" stroke-width="1.4" />
<line x1="317.00" y1="352.40" x2="317.00" y2="377.00" stroke="#1a1a1a" stroke-width="1.1" />
<line x1="314.25" y1="352.40" x2="319.75" y2="352.40" stroke="#1a1a1a" stroke-width="1.1" />
<line x1="314.25" y1="377.00" x2="319.75" y2="377.00" stroke="#1a1a1a" stroke-width="1.1" />
<line x1="370.30" y1="325.20" x2="370.30" y2="417.60" stroke="#1a1a1a" stroke-width="1.4" />
<line x1="367.70" y1="417.00" x2="415.90" y2="417.00" stroke="#1a1a1a" stroke-width="1.4" />
<line x1="367.70" y1="417.00" x2="370.30" y2="417.00" stroke="#1a1a1a" stroke-width="1.1" />
<text x="364.30" y="419.90" font-size="8.0" text-anchor="end" font-weight="normal" fill="#1a1a1a" >0.00</text>
<line x1="367.70" y1="394.88" x2="370.30" y2="394.88" stroke="#1a1a1a" stroke-width="1.1" />
<text x="364.30" y="397.77" font-size="8.0" text-anchor="end" font-weight="normal" fill="#1a1a1a" >0.01</text>
<line x1="367.70" y1="372.75" x2="370.30" y2="372.75" stroke="#1a1a1a" stroke-width="1.1" />
<text x="364.30" y="375.65" font-size="8.0" text-anchor="end" font-weight="normal" fill="#1a1a1a" >0.02</text>
<line x1="367.70" y1="350.62" x2="370.30" y2="350.62" stroke="#1a1a1a" stroke-width="1.1" />
<text x="364.30" y="353.52" font-size="8.0" text-anchor="end" font-weight="normal" fill="#1a1a1a" >0.03</text>
<line x1="367.70" y1="328.50" x2="370.30" y2="328.50" stroke="#1a1a1a" stroke-width="1.1" />
<text x="364.30" y="331.40" font-size="8.0" text-anchor="end" font-weight="normal" fill="#1a1a1a" >0.04</text>
<line x1="381.80" y1="417.00" x2="381.80" y2="419.80" stroke="#1a1a1a" stroke-width="1.1" />
<line x1="404.80" y1="417.00" x2="404.80" y2="419.80" stroke="#1a1a1a" stroke-width="1.1" />
<text x="364.30" y="430.30" font-size="8.0" text-anchor="end" font-weight="normal" fill="#1a1a1a" >Dox</text>
<text x="381.80" y="429.70" font-size="7.0" text-anchor="middle" font-weight="normal" fill="#1a1a1a" >-</text>
<text x="404.80" y="429.70" font-size="7.0" text-anchor="middle" font-weight="normal" fill="#1a1a1a" >+</text>
<text x="392.30" y="314.30" font-size="7.6" text-anchor="middle" font-weight="normal" fill="#1a1a1a" >SU4-XBP1s</text>
<text x="343.10" y="407.70" font-size="8.7" text-anchor="start" fill="#1a1a1a" transform="rotate(-90 343.10 407.70)">Srpr mRNA (relative)</text>
<line x1="376.10" y1="327.00" x2="413.60" y2="327.00" stroke="#1a1a1a" stroke-width="1.2" />
<circle cx="390.70" cy="321.50" r="1.2" fill="#111"/>
<circle cx="394.50" cy="321.50" r="1.2" fill="#111"/>
<circle cx="398.40" cy="321.50" r="1.2" fill="#111"/>
<circle cx="378.80" cy="385.30" r="1.9" fill="#284878"/>
<circle cx="384.80" cy="386.00" r="1.9" fill="#284878"/>
<circle cx="381.00" cy="387.50" r="1.9" fill="#284878"/>
<circle cx="378.50" cy="390.50" r="1.9" fill="#284878"/>
<circle cx="385.00" cy="391.50" r="1.9" fill="#284878"/>
<circle cx="378.80" cy="395.80" r="1.9" fill="#284878"/>
<circle cx="384.80" cy="397.30" r="1.9" fill="#284878"/>
<circle cx="381.80" cy="398.80" r="1.9" fill="#284878"/>
<rect x="398.65" y="343.35" width="3.70" height="3.70" fill="#a5153b" />
<rect x="403.15" y="346.95" width="3.70" height="3.70" fill="#a5153b" />
<rect x="401.65" y="356.45" width="3.70" height="3.70" fill="#a5153b" />
<rect x="402.15" y="360.65" width="3.70" height="3.70" fill="#a5153b" />
<rect x="399.45" y="366.15" width="3.70" height="3.70" fill="#a5153b" />
<rect x="404.65" y="365.45" width="3.70" height="3.70" fill="#a5153b" />
<rect x="401.65" y="368.45" width="3.70" height="3.70" fill="#a5153b" />
<rect x="401.65" y="375.45" width="3.70" height="3.70" fill="#a5153b" />
<rect x="406.15" y="374.85" width="3.70" height="3.70" fill="#a5153b" />
<line x1="374.30" y1="391.30" x2="389.30" y2="391.30" stroke="#1a1a1a" stroke-width="1.4" />
<line x1="381.80" y1="388.00" x2="381.80" y2="394.50" stroke="#1a1a1a" stroke-width="1.1" />
<line x1="379.05" y1="388.00" x2="384.55" y2="388.00" stroke="#1a1a1a" stroke-width="1.1" />
<line x1="379.05" y1="394.50" x2="384.55" y2="394.50" stroke="#1a1a1a" stroke-width="1.1" />
<line x1="396.80" y1="365.00" x2="412.20" y2="365.00" stroke="#1a1a1a" stroke-width="1.4" />
<line x1="404.50" y1="353.80" x2="404.50" y2="374.80" stroke="#1a1a1a" stroke-width="1.1" />
<line x1="401.75" y1="353.80" x2="407.25" y2="353.80" stroke="#1a1a1a" stroke-width="1.1" />
<line x1="401.75" y1="374.80" x2="407.25" y2="374.80" stroke="#1a1a1a" stroke-width="1.1" />
<line x1="467.30" y1="325.20" x2="467.30" y2="417.60" stroke="#1a1a1a" stroke-width="1.4" />
<line x1="464.70" y1="417.00" x2="512.60" y2="417.00" stroke="#1a1a1a" stroke-width="1.4" />
<line x1="464.70" y1="417.00" x2="467.30" y2="417.00" stroke="#1a1a1a" stroke-width="1.1" />
<text x="461.30" y="419.90" font-size="8.0" text-anchor="end" font-weight="normal" fill="#1a1a1a" >0.0000</text>
<line x1="464.70" y1="394.57" x2="467.30" y2="394.57" stroke="#1a1a1a" stroke-width="1.1" />
<text x="461.30" y="397.47" font-size="8.0" text-anchor="end" font-weight="normal" fill="#1a1a1a" >0.0005</text>
<line x1="464.70" y1="372.15" x2="467.30" y2="372.15" stroke="#1a1a1a" stroke-width="1.1" />
<text x="461.30" y="375.05" font-size="8.0" text-anchor="end" font-weight="normal" fill="#1a1a1a" >0.0010</text>
<line x1="464.70" y1="349.73" x2="467.30" y2="349.73" stroke="#1a1a1a" stroke-width="1.1" />
<text x="461.30" y="352.62" font-size="8.0" text-anchor="end" font-weight="normal" fill="#1a1a1a" >0.0015</text>
<line x1="464.70" y1="327.30" x2="467.30" y2="327.30" stroke="#1a1a1a" stroke-width="1.1" />
<text x="461.30" y="330.20" font-size="8.0" text-anchor="end" font-weight="normal" fill="#1a1a1a" >0.0020</text>
<line x1="478.70" y1="417.00" x2="478.70" y2="419.80" stroke="#1a1a1a" stroke-width="1.1" />
<line x1="501.80" y1="417.00" x2="501.80" y2="419.80" stroke="#1a1a1a" stroke-width="1.1" />
<text x="461.30" y="430.30" font-size="8.0" text-anchor="end" font-weight="normal" fill="#1a1a1a" >Dox</text>
<text x="478.70" y="429.70" font-size="7.0" text-anchor="middle" font-weight="normal" fill="#1a1a1a" >-</text>
<text x="501.80" y="429.70" font-size="7.0" text-anchor="middle" font-weight="normal" fill="#1a1a1a" >+</text>
<text x="490.20" y="314.30" font-size="7.6" text-anchor="middle" font-weight="normal" fill="#1a1a1a" >SU4-XBP1s</text>
<text x="430.80" y="409.70" font-size="8.7" text-anchor="start" fill="#1a1a1a" transform="rotate(-90 430.80 409.70)">Chop mRNA (relative)</text>
<line x1="473.10" y1="327.00" x2="509.50" y2="327.00" stroke="#1a1a1a" stroke-width="1.2" />
<circle cx="487.70" cy="321.60" r="1.2" fill="#111"/>
<circle cx="491.40" cy="321.60" r="1.2" fill="#111"/>
<circle cx="495.10" cy="321.60" r="1.2" fill="#111"/>
<circle cx="479.00" cy="372.00" r="1.9" fill="#284878"/>
<circle cx="482.80" cy="378.00" r="1.9" fill="#284878"/>
<circle cx="479.00" cy="382.50" r="1.9" fill="#284878"/>
<circle cx="474.50" cy="388.50" r="1.9" fill="#284878"/>
<circle cx="479.00" cy="396.00" r="1.9" fill="#284878"/>
<circle cx="475.00" cy="403.00" r="1.9" fill="#284878"/>
<circle cx="482.60" cy="405.70" r="1.9" fill="#284878"/>
<circle cx="478.70" cy="407.40" r="1.9" fill="#284878"/>
<rect x="502.05" y="345.85" width="3.70" height="3.70" fill="#a5153b" />
<rect x="496.25" y="348.65" width="3.70" height="3.70" fill="#a5153b" />
<rect x="506.15" y="350.55" width="3.70" height="3.70" fill="#a5153b" />
<rect x="500.15" y="352.05" width="3.70" height="3.70" fill="#a5153b" />
<rect x="496.25" y="360.65" width="3.70" height="3.70" fill="#a5153b" />
<rect x="506.35" y="358.75" width="3.70" height="3.70" fill="#a5153b" />
<rect x="500.15" y="363.55" width="3.70" height="3.70" fill="#a5153b" />
<rect x="505.85" y="368.75" width="3.70" height="3.70" fill="#a5153b" />
<rect x="500.15" y="374.95" width="3.70" height="3.70" fill="#a5153b" />
<rect x="498.15" y="356.65" width="3.70" height="3.70" fill="#a5153b" />
<line x1="472.00" y1="391.30" x2="486.50" y2="391.30" stroke="#1a1a1a" stroke-width="1.4" />
<line x1="479.25" y1="387.50" x2="479.25" y2="395.50" stroke="#1a1a1a" stroke-width="1.1" />
<line x1="476.50" y1="387.50" x2="482.00" y2="387.50" stroke="#1a1a1a" stroke-width="1.1" />
<line x1="476.50" y1="395.50" x2="482.00" y2="395.50" stroke="#1a1a1a" stroke-width="1.1" />
<line x1="494.30" y1="360.10" x2="509.60" y2="360.10" stroke="#1a1a1a" stroke-width="1.4" />
<line x1="501.95" y1="356.70" x2="501.95" y2="363.50" stroke="#1a1a1a" stroke-width="1.1" />
<line x1="499.20" y1="356.70" x2="504.70" y2="356.70" stroke="#1a1a1a" stroke-width="1.1" />
<line x1="499.20" y1="363.50" x2="504.70" y2="363.50" stroke="#1a1a1a" stroke-width="1.1" />
</svg>
</body></html>
